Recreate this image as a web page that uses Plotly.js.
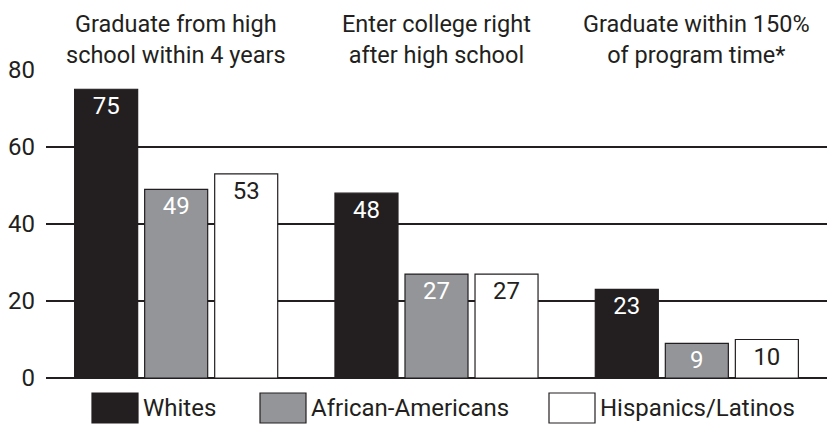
<!DOCTYPE html>
<html>
<head>
<meta charset="utf-8">
<script src="https://cdn.plot.ly/plotly-3.0.1.min.js"></script>
<style>
  html, body { margin: 0; padding: 0; background: #ffffff; }
  #chart { width: 827px; height: 425px; }
</style>
</head>
<body>
<div id="chart"></div>
<script>
// ---- data ----
const categories = ["Graduate from high<br>school within 4 years", "Enter college right<br>after high school", "Graduate within 150%<br>of program time*"];
const seriesNames = ["Whites", "African-Americans", "Hispanics/Latinos"];
const whites = [75, 48, 23];
const africanAmericans = [49, 27, 9];
const hispanicsLatinos = [53, 27, 10];
const yTicks = [0, 20, 40, 60, 80];

// ---- styles ----
const FONT = 'Roboto, "Liberation Sans", Arial, sans-serif';
const FS = 24;
const INK = '#231f20';
const fills = [INK, '#939598', '#ffffff'];
const textColors = ['#ffffff', '#ffffff', INK];
const seriesValues = [whites, africanAmericans, hispanicsLatinos];
const catIdx = categories.map((c, i) => i);

const traces = seriesValues.map((vals, k) => ({
  type: 'bar',
  name: seriesNames[k],
  x: catIdx,
  y: vals,
  text: vals.map(String),
  textposition: 'inside',
  insidetextanchor: 'end',
  textangle: 0,
  textfont: { family: FONT, size: FS, color: textColors[k] },
  marker: { color: fills[k], line: { color: INK, width: 1.2 } },
  hoverinfo: 'skip',
  showlegend: false
}));

// category headers above plot
const annotations = categories.map((c, i) => ({
  text: c, xref: 'x', x: i, yref: 'paper', y: 1, yanchor: 'bottom',
  showarrow: false, font: { family: FONT, size: 23.5, color: INK }, align: 'center', yshift: -1
}));

// custom legend (large swatches)
const plotL = 46, plotW = 781, plotB = 378, plotH = 308;
const legendBoxX = [92, 260, 549];
const legendBoxW = 46, legendTop = 393, legendBot = 423;
const shapes = [];
seriesNames.forEach((n, k) => {
  const px0 = (legendBoxX[k] - plotL) / plotW;
  const px1 = (legendBoxX[k] + legendBoxW - plotL) / plotW;
  shapes.push({ type: 'rect', xref: 'paper', yref: 'paper',
    x0: px0, x1: px1, y0: (plotB - legendBot) / plotH, y1: (plotB - legendTop) / plotH,
    fillcolor: fills[k], line: { color: INK, width: 1.2 } });
  annotations.push({ text: n, xref: 'paper', yref: 'paper',
    x: (legendBoxX[k] + legendBoxW + 3 - plotL) / plotW, xanchor: 'left',
    y: (plotB - (legendTop + legendBot) / 2) / plotH, yanchor: 'middle',
    showarrow: false, font: { family: FONT, size: FS, color: INK } });
});

const layout = {
  width: 827, height: 425,
  margin: { l: 46, r: 0, t: 70, b: 47, pad: 0 },
  paper_bgcolor: '#ffffff', plot_bgcolor: '#ffffff',
  font: { family: FONT, size: FS, color: INK },
  barmode: 'group', bargap: 0.193, bargroupgap: 0.1,
  xaxis: { range: [-0.5, 2.5], showticklabels: false, showgrid: false, zeroline: false, fixedrange: true },
  yaxis: { range: [0, 80], tickvals: yTicks, ticktext: yTicks.map(String), showgrid: true,
    gridcolor: INK, gridwidth: 1.2, zeroline: true, zerolinecolor: INK, zerolinewidth: 1.2,
    ticks: '', ticklabelstandoff: 10, tickfont: { family: FONT, size: FS, color: INK }, fixedrange: true },
  shapes: shapes,
  annotations: annotations,
  showlegend: false
};

Plotly.newPlot('chart', traces, layout, { displayModeBar: false, staticPlot: true });
</script>
</body>
</html>
